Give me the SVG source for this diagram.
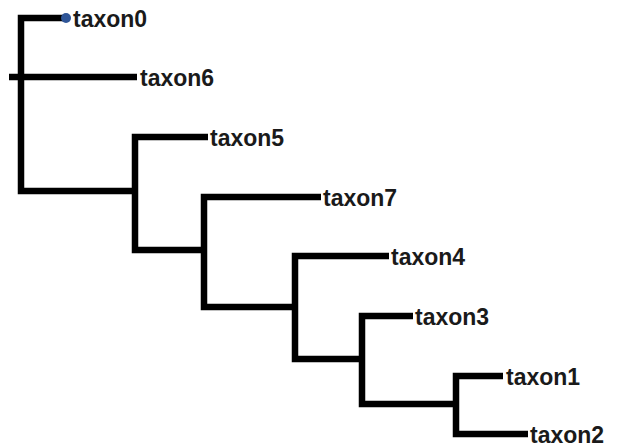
<svg xmlns="http://www.w3.org/2000/svg" width="618" height="444" viewBox="0 0 618 444">
<style>
.br{fill:none;stroke:#000;stroke-width:6.5;stroke-linejoin:miter;stroke-linecap:butt}
.lb{font-family:"Liberation Sans",Arial,sans-serif;font-weight:bold;font-size:23px;fill:#1a1a1a}
</style>
<rect width="618" height="444" fill="#fff"/>
<g id="connectors">
<path class="br" d="M67,18 H21 V191 H135"/>
<path class="br" d="M9,77 H137"/>
<path class="br" d="M208,137 H135 V250 H204"/>
<path class="br" d="M321,197 H204 V307 H295"/>
<path class="br" d="M389,256 H295 V359 H362"/>
<path class="br" d="M413,316 H362 V404 H456"/>
<path class="br" d="M503,376 H456 V434 H528"/>
</g>
<g id="root"><circle cx="66" cy="18" r="5" fill="#2f5597"/></g>
<g id="taxon0"><text class="lb" x="73" y="27">taxon0</text></g>
<g id="taxon6"><text class="lb" x="140" y="86">taxon6</text></g>
<g id="taxon5"><text class="lb" x="210" y="146">taxon5</text></g>
<g id="taxon7"><text class="lb" x="323" y="206">taxon7</text></g>
<g id="taxon4"><text class="lb" x="391" y="265">taxon4</text></g>
<g id="taxon3"><text class="lb" x="415" y="325">taxon3</text></g>
<g id="taxon1"><text class="lb" x="506" y="385">taxon1</text></g>
<g id="taxon2"><text class="lb" x="530" y="443">taxon2</text></g>
</svg>
